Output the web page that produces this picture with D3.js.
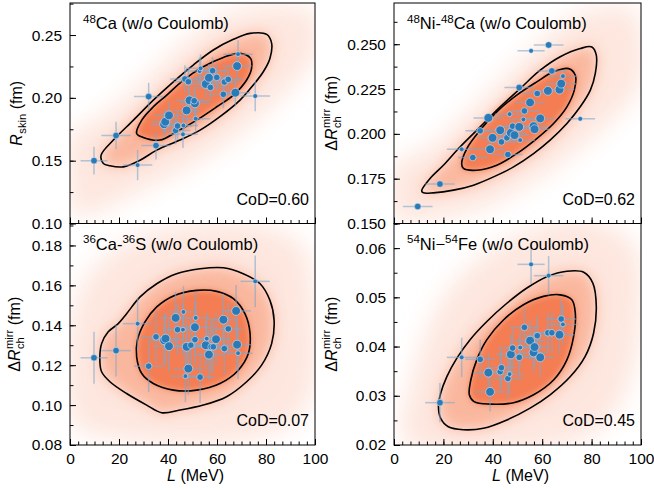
<!DOCTYPE html>
<html>
<head>
<meta charset="utf-8">
<script src="https://cdn.jsdelivr.net/npm/d3@7"></script>
<style>
  body { margin: 0; background: #fff; }
  svg text { font-family: "Liberation Sans", Arial, sans-serif; fill: #000; }
</style>
</head>
<body>
<svg id="chart" width="654" height="490"></svg>
<script>
// ---- data ----
const xTicks = [0, 20, 40, 60, 80, 100]

// 48Ca, R_skin
const ca48L    = [9.8, 18.8, 27.6, 32.1, 35.1, 38.4, 38.9, 40.4, 43.1, 43.9, 46.1, 46.3, 46.9, 48.3, 47.6, 48.8, 51.0, 50.7, 51.3, 52.9, 53.3, 55.4, 56.7, 57.3, 58.2, 59.9, 63.0, 64.6, 62.6, 68.2, 68.6, 67.5, 75.6]
const ca48Skin = [0.150, 0.170, 0.1465, 0.201, 0.162, 0.179, 0.181, 0.186, 0.174, 0.1776, 0.171, 0.178, 0.215, 0.2128, 0.190, 0.198, 0.1956, 0.1977, 0.1834, 0.2213, 0.2235, 0.211, 0.216, 0.2083, 0.2216, 0.2163, 0.2126, 0.2147, 0.2028, 0.2253, 0.2348, 0.2041, 0.2014]
const ca48Size = [2, 2, 1, 2, 2, 3, 3, 3, 2, 2, 1, 1, 2, 2, 3, 3, 3, 2, 1, 1, 1, 3, 3, 2, 2, 2, 2, 2, 2, 3, 1, 3, 1]
const ca48LErr    = [5.5, 6, 6, 6, 6, 5.5, 5.5, 6, 6, 6, 6, 6, 6, 6, 5.5, 6, 6, 6, 6, 6, 6, 6, 6, 6, 6, 6, 6, 6, 6, 6, 6, 6, 6]
const ca48SkinErr = [0.011, 0.011, 0.012, 0.011, 0.011, 0.01, 0.01, 0.011, 0.011, 0.011, 0.011, 0.011, 0.011, 0.011, 0.011, 0.011, 0.011, 0.011, 0.011, 0.011, 0.011, 0.011, 0.011, 0.011, 0.011, 0.011, 0.011, 0.011, 0.011, 0.011, 0.011, 0.011, 0.012]
const ca48Inner = [[27.2, 0.1717], [29.3, 0.1823], [34.0, 0.1929], [39.5, 0.2022], [46.3, 0.2142], [54.4, 0.2248], [62.6, 0.2322], [69.4, 0.2354], [73.7, 0.2314], [74.1, 0.2234], [72.1, 0.2142], [66.7, 0.2022], [59.9, 0.1929], [51.7, 0.1823], [43.5, 0.1730], [36.7, 0.1664], [29.9, 0.1685]]
const ca48Outer = [[12.7, 0.1544], [17.7, 0.1664], [25.9, 0.1823], [34.0, 0.1982], [42.2, 0.2128], [50.3, 0.2261], [58.5, 0.2381], [66.7, 0.2466], [73.5, 0.2513], [80.3, 0.2505], [82.3, 0.2434], [81.6, 0.2314], [78.9, 0.2208], [74.8, 0.2102], [69.4, 0.1982], [61.2, 0.1850], [53.1, 0.1743], [44.9, 0.1664], [35.4, 0.1584], [28.6, 0.1504], [21.8, 0.1451], [16.3, 0.1459], [13.6, 0.1478]]
const ca48Cloud = [[0, 0.115], [0, 0.17], [10, 0.182], [22, 0.2], [36, 0.225], [50, 0.25], [65, 0.268], [88, 0.274], [100, 0.268], [100, 0.232], [92, 0.212], [82, 0.192], [70, 0.172], [55, 0.152], [40, 0.136], [25, 0.122], [12, 0.11], [2, 0.105]]

// 48Ni-48Ca, dR_ch^mirr
const ni48L    = [9.6, 18.6, 27.4, 31.9, 34.9, 38.2, 38.9, 39.9, 43.0, 43.5, 45.7, 46.1, 46.8, 47.3, 48.0, 48.8, 50.7, 51.1, 50.7, 52.4, 52.8, 55.1, 56.5, 56.9, 58.0, 59.2, 62.3, 67.0, 67.7, 68.4, 63.9, 55.5, 62.6, 75.4]
const ni48Mirr = [0.1595, 0.172, 0.1914, 0.1868, 0.2017, 0.2089, 0.1914, 0.1978, 0.202, 0.1955, 0.1978, 0.1885, 0.211, 0.2006, 0.2043, 0.1993, 0.2039, 0.1965, 0.2258, 0.208, 0.2128, 0.2175, 0.2043, 0.2026, 0.2225, 0.2086, 0.224, 0.2247, 0.228, 0.2322, 0.2351, 0.2463, 0.2496, 0.2084]
const ni48Size = [2, 2, 1, 2, 2, 3, 3, 3, 3, 2, 2, 2, 1, 3, 2, 3, 3, 1, 2, 1, 2, 3, 3, 3, 2, 3, 3, 3, 3, 1, 2, 1, 2, 1]
const ni48LErr    = [6, 6, 6, 6, 6, 6, 6, 6, 6, 6, 6, 6, 6, 6, 6, 6, 6, 6, 6, 6, 6, 6, 6, 6, 6, 6, 6, 6, 6, 6, 6, 5.5, 6, 6]
const ni48MirrErr = [0.001, 0.001, 0.001, 0.001, 0.001, 0.001, 0.001, 0.001, 0.001, 0.001, 0.001, 0.001, 0.001, 0.001, 0.001, 0.001, 0.001, 0.001, 0.001, 0.001, 0.001, 0.001, 0.001, 0.001, 0.001, 0.001, 0.001, 0.001, 0.001, 0.001, 0.001, 0.001, 0.001, 0.001]
const ni48Inner = [[27.4, 0.1835], [29.5, 0.1918], [34.9, 0.2021], [41.6, 0.2123], [49.7, 0.2216], [57.8, 0.2290], [64.6, 0.2346], [70.7, 0.2364], [73.4, 0.2327], [73.0, 0.2244], [70.0, 0.2151], [64.6, 0.2058], [57.8, 0.1974], [49.7, 0.1890], [41.6, 0.1825], [33.5, 0.1797], [28.1, 0.1807]]
const ni48Outer = [[11.2, 0.1682], [14.6, 0.1751], [20.0, 0.1825], [26.8, 0.1928], [34.9, 0.2039], [43.0, 0.2151], [51.1, 0.2253], [59.2, 0.2355], [67.3, 0.2430], [75.4, 0.2476], [80.1, 0.2485], [81.9, 0.2439], [81.5, 0.2337], [79.5, 0.2244], [75.4, 0.2151], [70.0, 0.2058], [63.2, 0.1965], [56.5, 0.1890], [48.4, 0.1816], [40.3, 0.1760], [32.2, 0.1714], [24.1, 0.1686], [15.9, 0.1671], [11.9, 0.1671]]
const ni48Cloud = [[0, 0.152], [0, 0.182], [15, 0.193], [30, 0.212], [45, 0.232], [60, 0.252], [75, 0.267], [95, 0.271], [100, 0.262], [100, 0.228], [90, 0.21], [78, 0.195], [65, 0.181], [50, 0.168], [35, 0.158], [20, 0.153]]

// 36Ca-36S, dR_ch^mirr
const ca36L    = [9.8, 18.8, 27.6, 32.1, 35.1, 38.4, 39.0, 40.4, 43.1, 43.9, 46.1, 46.3, 47.1, 47.6, 48.3, 49.3, 51.0, 51.0, 51.3, 53.1, 55.4, 55.8, 56.7, 57.6, 58.5, 59.6, 62.6, 63.0, 64.6, 67.8, 68.2, 68.6, 75.6]
const ca36Mirr = [0.1237, 0.1273, 0.1408, 0.1195, 0.1342, 0.1325, 0.1333, 0.1295, 0.1437, 0.1378, 0.1378, 0.1467, 0.1145, 0.1292, 0.1183, 0.130, 0.139, 0.1328, 0.1437, 0.114, 0.130, 0.1333, 0.1253, 0.1292, 0.1292, 0.133, 0.1428, 0.1283, 0.1382, 0.1472, 0.1303, 0.126, 0.162]
const ca36Size = [2, 2, 1, 2, 2, 3, 3, 3, 3, 2, 1, 1, 1, 3, 3, 2, 3, 2, 1, 2, 3, 1, 3, 2, 2, 3, 3, 2, 2, 3, 3, 1, 1]
const ca36LErr    = [5.5, 6, 6, 6, 6, 6, 6, 6, 6, 6, 6, 6, 6, 6, 6, 6, 6, 6, 6, 6, 6, 6, 6, 6, 6, 6, 6, 6, 6, 6, 6, 6, 6]
const ca36MirrErr = [0.013, 0.013, 0.013, 0.013, 0.013, 0.013, 0.013, 0.013, 0.013, 0.013, 0.013, 0.013, 0.013, 0.013, 0.013, 0.013, 0.013, 0.013, 0.013, 0.013, 0.013, 0.013, 0.013, 0.013, 0.013, 0.013, 0.013, 0.013, 0.013, 0.013, 0.013, 0.013, 0.013]
const ca36Inner = [[27.2, 0.1242], [27.5, 0.1325], [30.6, 0.1417], [35.4, 0.1492], [42.2, 0.1547], [51.7, 0.1575], [59.9, 0.1570], [66.7, 0.1533], [71.4, 0.1458], [73.5, 0.1358], [72.8, 0.1258], [68.7, 0.1175], [61.2, 0.1108], [51.7, 0.1075], [42.2, 0.1075], [34.0, 0.1108], [29.3, 0.1158]]
const ca36Outer = [[12.2, 0.1217], [12.9, 0.1308], [15.6, 0.1367], [19.7, 0.1408], [23.1, 0.1458], [28.6, 0.1542], [35.4, 0.1608], [43.5, 0.1658], [53.1, 0.1683], [62.6, 0.1688], [70.7, 0.1658], [77.6, 0.1608], [81.6, 0.1525], [83.3, 0.1425], [82.3, 0.1308], [78.2, 0.1200], [72.1, 0.1117], [63.9, 0.1042], [54.4, 0.1000], [44.9, 0.0975], [37.4, 0.0962], [31.3, 0.1000], [23.1, 0.1058], [16.3, 0.1117], [12.9, 0.1167]]
const ca36Cloud = [[2, 0.09], [0, 0.14], [8, 0.166], [25, 0.183], [50, 0.191], [75, 0.191], [95, 0.18], [100, 0.15], [100, 0.11], [92, 0.092], [75, 0.083], [50, 0.08], [25, 0.082]]

// 54Ni-54Fe, dR_ch^mirr
const ni54L    = [18.6, 27.4, 34.9, 38.2, 38.9, 43.0, 43.5, 46.1, 46.8, 47.3, 48.0, 50.7, 51.1, 52.8, 55.1, 56.5, 56.9, 58.0, 59.2, 62.3, 63.9, 67.0, 67.7, 68.4, 55.5, 62.6]
const ni54Mirr = [0.0286, 0.0378, 0.0374, 0.0347, 0.0308, 0.0349, 0.0357, 0.0335, 0.0344, 0.0384, 0.0397, 0.0378, 0.0398, 0.0439, 0.0412, 0.0388, 0.0399, 0.0422, 0.0378, 0.0428, 0.0428, 0.0424, 0.0456, 0.0445, 0.0567, 0.0544]
const ni54Size = [2, 1, 2, 3, 3, 2, 2, 2, 1, 3, 2, 2, 1, 2, 3, 3, 3, 2, 3, 2, 2, 3, 2, 1, 1, 1]
const ni54LErr    = [6, 6, 6, 6, 6, 6, 6, 6, 6, 6, 6, 6, 6, 6, 6, 6, 6, 6, 6, 6, 6, 6, 6, 6, 5.5, 6]
const ni54MirrErr = [0.004, 0.004, 0.004, 0.004, 0.004, 0.004, 0.004, 0.004, 0.004, 0.004, 0.004, 0.004, 0.004, 0.004, 0.004, 0.004, 0.004, 0.004, 0.004, 0.004, 0.004, 0.004, 0.004, 0.004, 0.004, 0.004]
const ni54Inner = [[30.5, 0.0302], [31.1, 0.0332], [33.5, 0.0373], [37.6, 0.0414], [44.3, 0.0454], [52.4, 0.0485], [60.5, 0.0502], [67.3, 0.0505], [72.0, 0.0495], [73.4, 0.0468], [72.7, 0.0420], [70.0, 0.0373], [64.6, 0.0332], [56.5, 0.0302], [48.4, 0.0286], [38.9, 0.0283], [32.4, 0.0288]]
const ni54Outer = [[18.0, 0.0278], [18.9, 0.0305], [21.4, 0.0339], [25.4, 0.0376], [30.8, 0.0414], [37.6, 0.0451], [45.7, 0.0488], [53.8, 0.0519], [61.9, 0.0542], [70.0, 0.0553], [76.8, 0.0551], [80.5, 0.0529], [81.9, 0.0481], [80.8, 0.0427], [77.4, 0.0380], [71.4, 0.0339], [63.2, 0.0302], [55.1, 0.0275], [45.7, 0.0251], [36.2, 0.0234], [28.1, 0.0231], [22.0, 0.0237], [18.9, 0.0254]]
const ni54Cloud = [[5, 0.02], [8, 0.035], [20, 0.05], [35, 0.058], [55, 0.064], [80, 0.066], [98, 0.06], [100, 0.045], [95, 0.032], [85, 0.024], [70, 0.02]]

const panels = [
  { x0: 70, x1: 315, y0: 3, y1: 223.5, yDomain: [0.10, 0.2755], yMajor: [0.10, 0.15, 0.20, 0.25], yMinorStep: 0.025, fmt: '.2f',
    title: [['48', 1], ['Ca (w/o Coulomb)', 0]], cod: 'CoD=0.60', sub: 'skin', sup: null, labX: 22, xLabels: false,
    L: ca48L, v: ca48Skin, size: ca48Size, lErr: ca48LErr, vErr: ca48SkinErr, inner: ca48Inner, outer: ca48Outer, cloud: ca48Cloud },
  { x0: 394, x1: 641, y0: 3, y1: 223.5, yDomain: [0.15, 0.273], yMajor: [0.150, 0.175, 0.200, 0.225, 0.250], yMinorStep: 0.0125, fmt: '.3f',
    title: [['48', 1], ['Ni-', 0], ['48', 1], ['Ca (w/o Coulomb)', 0]], cod: 'CoD=0.62', sub: 'ch', sup: 'mirr', labX: 337, xLabels: false,
    L: ni48L, v: ni48Mirr, size: ni48Size, lErr: ni48LErr, vErr: ni48MirrErr, inner: ni48Inner, outer: ni48Outer, cloud: ni48Cloud },
  { x0: 70, x1: 315, y0: 223.5, y1: 445, yDomain: [0.08, 0.191], yMajor: [0.08, 0.10, 0.12, 0.14, 0.16, 0.18], yMinorStep: 0.01, fmt: '.2f',
    title: [['36', 1], ['Ca-', 0], ['36', 1], ['S (w/o Coulomb)', 0]], cod: 'CoD=0.07', sub: 'ch', sup: 'mirr', labX: 20, xLabels: true,
    L: ca36L, v: ca36Mirr, size: ca36Size, lErr: ca36LErr, vErr: ca36MirrErr, inner: ca36Inner, outer: ca36Outer, cloud: ca36Cloud },
  { x0: 394, x1: 641, y0: 223.5, y1: 445, yDomain: [0.02, 0.065], yMajor: [0.02, 0.03, 0.04, 0.05, 0.06], yMinorStep: 0.005, fmt: '.2f',
    title: [['54', 1], ['Ni\u2212', 0], ['54', 1], ['Fe (w/o Coulomb)', 0]], cod: 'CoD=0.45', sub: 'ch', sup: 'mirr', labX: 337, xLabels: true,
    L: ni54L, v: ni54Mirr, size: ni54Size, lErr: ni54LErr, vErr: ni54MirrErr, inner: ni54Inner, outer: ni54Outer, cloud: ni54Cloud }
]

const radius = { 1: 2.4, 2: 3.3, 3: 4.4 }
const FS = 16

const svg = d3.select('#chart')
const defs = svg.append('defs')
;[[12, 'blurA'], [7, 'blurB'], [3, 'blurC']].forEach(([s, id]) => {
  defs.append('filter').attr('id', id)
    .attr('x', '-50%').attr('y', '-50%').attr('width', '200%').attr('height', '200%')
    .append('feGaussianBlur').attr('stdDeviation', s)
})

function richText(sel, parts, size) {
  let up = false
  parts.forEach(([t, sup]) => {
    const ts = sel.append('tspan').text(t)
    if (sup && !up) { ts.attr('dy', -6.5).style('font-size', (size * 0.7) + 'px'); up = true }
    else if (!sup && up) { ts.attr('dy', 6.5).style('font-size', size + 'px'); up = false }
    else ts.style('font-size', (sup ? size * 0.7 : size) + 'px')
  })
}

function yLabel(cx, cy, sub, sup) {
  const g = svg.append('g').attr('transform', `translate(${cx},${cy}) rotate(-90)`)
  const inner = g.append('g')
  let x = 0
  const put = (t, size, dy, italic) => {
    const el = inner.append('text').attr('x', x).attr('y', dy).style('font-size', size + 'px').text(t)
    if (italic) el.style('font-style', 'italic')
    return el.node().getComputedTextLength()
  }
  if (sup) x += put('\u0394', FS, 0)
  x += put('R', FS, 0, true) + 0.5
  const w1 = put(sub, FS * 0.7, 3.8)
  const w2 = sup ? put(sup, FS * 0.7, -7) : 0
  x += Math.max(w1, w2) + 4.5
  x += put('(fm)', FS, 0)
  inner.attr('transform', `translate(${-x / 2},0)`)
}

panels.forEach((p, i) => {
  const x = d3.scaleLinear().domain([0, 100]).range([p.x0, p.x1])
  const y = d3.scaleLinear().domain(p.yDomain).range([p.y1, p.y0])
  const clipId = 'clip' + i
  defs.append('clipPath').attr('id', clipId)
    .append('rect').attr('x', p.x0).attr('y', p.y0).attr('width', p.x1 - p.x0).attr('height', p.y1 - p.y0)

  const g = svg.append('g').attr('clip-path', `url(#${clipId})`)
  const shape = d3.line().x(d => x(d[0])).y(d => y(d[1])).curve(d3.curveCatmullRomClosed)

  // posterior cloud
  g.append('path').attr('d', shape(p.cloud)).attr('fill', '#fcd3c4').attr('opacity', 0.55).attr('filter', 'url(#blurA)')
  g.append('path').attr('d', shape(p.outer)).attr('fill', '#f9ac8f').attr('opacity', 0.8).attr('filter', 'url(#blurB)')
  g.append('path').attr('d', shape(p.inner)).attr('fill', '#f47a50').attr('opacity', 0.95).attr('filter', 'url(#blurC)')

  // contours
  g.append('path').attr('d', shape(p.outer)).attr('fill', 'none').attr('stroke', '#000').attr('stroke-width', 1.6)
  g.append('path').attr('d', shape(p.inner)).attr('fill', 'none').attr('stroke', '#000').attr('stroke-width', 1.6)

  // model points with error bars
  const pts = p.L.map((l, k) => ({ l, v: p.v[k], s: p.size[k], el: p.lErr[k], ev: p.vErr[k] }))
  const eb = g.append('g').attr('stroke', '#7ea8cc').attr('stroke-opacity', 0.6).attr('stroke-width', 1.5)
  eb.selectAll('.ex').data(pts).enter().append('line')
    .attr('x1', d => x(d.l - d.el)).attr('x2', d => x(d.l + d.el))
    .attr('y1', d => y(d.v)).attr('y2', d => y(d.v))
  eb.selectAll('.ey').data(pts).enter().append('line')
    .attr('x1', d => x(d.l)).attr('x2', d => x(d.l))
    .attr('y1', d => y(d.v - d.ev)).attr('y2', d => y(d.v + d.ev))
  g.append('g').selectAll('circle').data(pts).enter().append('circle')
    .attr('cx', d => x(d.l)).attr('cy', d => y(d.v)).attr('r', d => radius[d.s])
    .attr('fill', '#2a7ab8').attr('stroke', '#d6e6f3').attr('stroke-width', 0.6)

  // frame
  svg.append('rect').attr('x', p.x0).attr('y', p.y0).attr('width', p.x1 - p.x0).attr('height', p.y1 - p.y0)
    .attr('fill', 'none').attr('stroke', '#000').attr('stroke-width', 1)

  // y axis
  const yMinor = d3.range(p.yDomain[0], p.yDomain[1] + 1e-9, p.yMinorStep)
  const yMin = svg.append('g').attr('transform', `translate(${p.x0},0)`)
    .call(d3.axisLeft(y).tickValues(yMinor).tickSize(-3.5).tickFormat(''))
  const yMaj = svg.append('g').attr('transform', `translate(${p.x0},0)`)
    .call(d3.axisLeft(y).tickValues(p.yMajor).tickSize(-6).tickPadding(8).tickFormat(d3.format(p.fmt)))

  // x axis
  const xMinor = d3.range(0, 100 + 1e-9, 20 / 6)
  const xMin = svg.append('g').attr('transform', `translate(0,${p.y1})`)
    .call(d3.axisBottom(x).tickValues(xMinor).tickSize(-3.5).tickFormat(''))
  const xMaj = svg.append('g').attr('transform', `translate(0,${p.y1})`)
    .call(d3.axisBottom(x).tickValues(xTicks).tickSize(-6).tickPadding(8).tickFormat(p.xLabels ? d3.format('d') : ''))

  ;[yMin, yMaj, xMin, xMaj].forEach(a => {
    a.select('.domain').remove()
    a.attr('font-family', null).attr('font-size', null)
    a.selectAll('text').style('font-size', '15.5px')
    a.selectAll('line').attr('stroke-width', 1)
  })

  // panel title and CoD
  richText(svg.append('text').attr('x', p.x0 + 13).attr('y', p.y0 + 26), p.title, 16.5)
  svg.append('text').attr('x', p.x1 - 6).attr('y', p.y1 - 19).attr('text-anchor', 'end')
    .style('font-size', FS + 'px').text(p.cod)

  // y label
  yLabel(p.labX, (p.y0 + p.y1) / 2, p.sub, p.sup)

  // x label
  if (p.xLabels) {
    const t = svg.append('text').attr('x', (p.x0 + p.x1) / 2 + 3).attr('y', 481).attr('text-anchor', 'middle').style('font-size', FS + 'px')
    t.append('tspan').style('font-style', 'italic').text('L')
    t.append('tspan').text(' (MeV)')
  }
})
</script>
</body>
</html>
